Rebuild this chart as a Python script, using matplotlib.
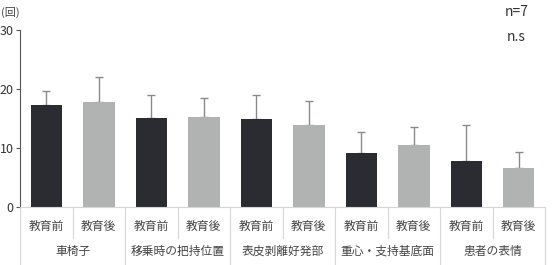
import numpy as np
import matplotlib.pyplot as plt
from matplotlib.transforms import blended_transform_factory
from matplotlib.lines import Line2D

plt.rcParams['font.family'] = ['Noto Sans CJK JP', 'DejaVu Sans']

groups = ['車椅子', '移乗時の把持位置', '表皮剥離好発部', '重心・支持基底面', '患者の表情']
phases = ['教育前', '教育後']
means = [17.3, 17.8, 15.1, 15.3, 14.9, 13.9, 9.2, 10.5, 7.8, 6.6]
errs = [2.4, 4.2, 3.9, 3.2, 4.1, 4.1, 3.5, 3.1, 6.1, 2.7]

dark = '#2a2c32'
light = '#b1b2b2'
grid_c = '#d6d6d6'

fig = plt.figure(figsize=(5.52, 2.65), dpi=100)
ax = fig.add_axes([20 / 552, 58 / 265, 525 / 552, 177 / 265])

x = np.arange(len(means))
colors = [dark if i % 2 == 0 else light for i in range(len(means))]
ax.bar(x, means, width=0.6, color=colors, zorder=2)
ax.errorbar(x, means, yerr=[np.zeros(len(errs)), errs], fmt='none',
            ecolor='#8a8a8a', elinewidth=1, capsize=3, capthick=1, zorder=1)

ax.set_xlim(-0.5, len(means) - 0.5)
ax.set_ylim(0, 30)
ax.set_yticks([0, 10, 20, 30])
ax.tick_params(axis='y', labelsize=9, length=3, pad=1.5, color='#555555',
               labelcolor='#333333')
ax.set_xticks([])
for s in ['top', 'right']:
    ax.spines[s].set_visible(False)
ax.spines['left'].set_color('#555555')
ax.spines['bottom'].set_color(grid_c)

# category table below the axis
tr = blended_transform_factory(ax.transData, ax.transAxes)
h = 177.0
for i in range(len(means)):
    ax.text(i, -19 / h, phases[i % 2], transform=tr, ha='center', va='center',
            fontsize=8.5, color='#444444')
for g, name in enumerate(groups):
    ax.text(2 * g + 0.5, -44 / h, name, transform=tr, ha='center', va='center',
            fontsize=8.5, color='#444444')
for i in range(len(means) + 1):
    bottom = -60 / h if i % 2 == 0 else -31 / h
    ax.add_line(Line2D([i - 0.5, i - 0.5], [0, bottom], transform=tr,
                       color=grid_c, lw=0.8, clip_on=False))

fig.text(1 / 552, 1 - 12 / 265, '(回)', fontsize=8, color='#444444', va='center')
fig.text(505 / 552, 1 - 12 / 265, 'n=7', fontsize=10, color='#333333', va='center')
fig.text(507 / 552, 1 - 37 / 265, 'n.s', fontsize=10, color='#333333', va='center')

fig.savefig('out.png', dpi=100)
